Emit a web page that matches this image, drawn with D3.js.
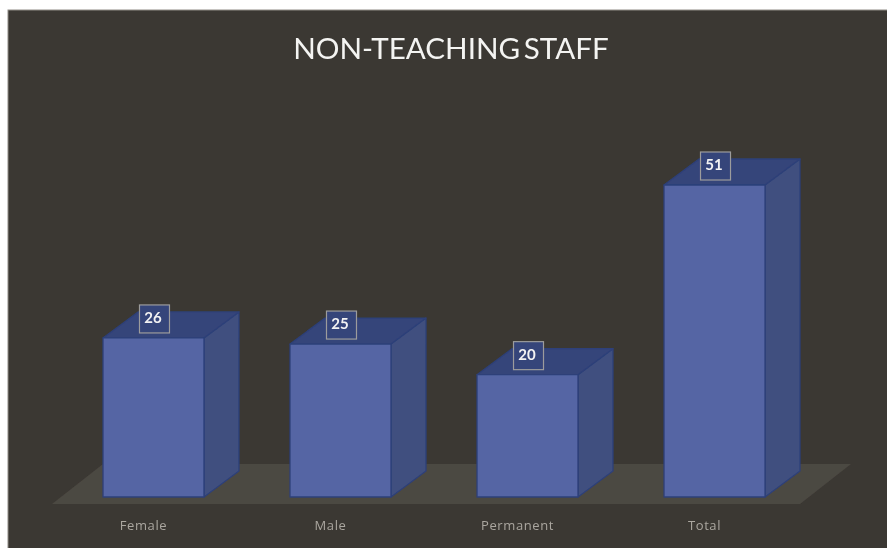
<!DOCTYPE html>
<html>
<head>
<meta charset="utf-8">
<script src="https://d3js.org/d3.v7.min.js"></script>
<style>
html, body { margin: 0; padding: 0; background: #fff; overflow: hidden; }
svg { display: block; }
.axis text { font-family: "Open Sans", sans-serif; font-size: 13px; fill: #aaa69f; letter-spacing: 0.6px; }
.axis .domain, .axis line { display: none; }
</style>
</head>
<body>
<div id="chart"></div>
<script>
const categories = ['Female', 'Male', 'Permanent', 'Total'];
const values = [26, 25, 20, 51];
const titleText = 'NON-TEACHING STAFF';

const width = 887, height = 548;
const baseY = 497, topY = 185;
const depth = {x: 35, y: -26};
const floorDepth = {x: 51, y: -40};

const svg = d3.select('#chart').append('svg')
    .attr('width', width)
    .attr('height', height);

const defs = svg.append('defs');
defs.append('filter').attr('id', 'soft')
    .append('feGaussianBlur').attr('stdDeviation', 0.55);

// dark panel runs off the right and bottom edges, white strip stays at top and left
svg.append('rect')
    .attr('x', 8).attr('y', 10)
    .attr('width', width).attr('height', height)
    .attr('fill', '#3b3833')
    .attr('stroke', '#8f8c86')
    .attr('stroke-width', 1);

const xScale = d3.scaleBand()
    .domain(categories)
    .range([103, 765])
    .paddingInner(0.46);

const yScale = d3.scaleLinear()
    .domain([0, d3.max(values)])
    .range([baseY, topY]);

const data = categories.map((c, i) => ({category: c, value: values[i]}));
const bw = xScale.bandwidth();
const poly = pts => pts.map(p => p.join(',')).join(' ');

const g = svg.append('g').attr('filter', 'url(#soft)');

// floor
const floorLeft = xScale(categories[0]) - 51;
const floorRight = xScale(categories[3]) + bw + 35;
g.append('polygon')
    .attr('points', poly([
        [floorLeft, baseY + 7],
        [floorRight, baseY + 7],
        [floorRight + floorDepth.x, baseY + 7 + floorDepth.y],
        [floorLeft + floorDepth.x, baseY + 7 + floorDepth.y]
    ]))
    .attr('fill', '#4c4842');

const bars = g.selectAll('g.bar')
    .data(data)
    .enter()
    .append('g')
    .attr('class', 'bar')
    .attr('stroke', '#2d4079')
    .attr('stroke-width', 1.3)
    .attr('stroke-linejoin', 'round');

// side face
bars.append('polygon')
    .attr('points', d => {
        const x = xScale(d.category) + bw, y = yScale(d.value);
        return poly([[x, baseY], [x, y], [x + depth.x, y + depth.y], [x + depth.x, baseY + depth.y]]);
    })
    .attr('fill', '#40507f');

// top face
bars.append('polygon')
    .attr('points', d => {
        const x = xScale(d.category), y = yScale(d.value);
        return poly([[x, y], [x + bw, y], [x + bw + depth.x, y + depth.y], [x + depth.x, y + depth.y]]);
    })
    .attr('fill', '#35447a');

// front face
bars.append('rect')
    .attr('x', d => xScale(d.category))
    .attr('y', d => yScale(d.value))
    .attr('width', bw)
    .attr('height', d => baseY - yScale(d.value))
    .attr('fill', '#5565a4');

// value labels
const labels = g.selectAll('g.label')
    .data(data)
    .enter()
    .append('g')
    .attr('class', 'label')
    .attr('transform', d => `translate(${xScale(d.category) + bw / 2 + 1}, ${yScale(d.value) - 19})`);

labels.append('rect')
    .attr('x', -15).attr('y', -14)
    .attr('width', 30).attr('height', 28)
    .attr('fill', '#35447a')
    .attr('stroke', '#9c9c9c')
    .attr('stroke-width', 1.2);

labels.append('text')
    .attr('text-anchor', 'middle')
    .attr('y', 4)
    .attr('x', -1.5)
    .attr('font-family', 'Lato, sans-serif')
    .attr('font-size', 15)
    .attr('font-weight', 700)
    .attr('fill', '#f2f2f2')
    .text(d => d.value);

// category labels sit a little left of the bars in the original
const xAxis = d3.axisBottom(xScale).tickSize(0).tickPadding(0);
g.append('g')
    .attr('class', 'axis')
    .attr('transform', `translate(-10, 521)`)
    .call(xAxis);

g.append('text')
    .attr('x', 451)
    .attr('y', 59)
    .attr('text-anchor', 'middle')
    .attr('font-family', 'Lato, sans-serif')
    .attr('font-size', 29.6)
    .attr('word-spacing', -4)
    .attr('fill', '#f4f4f2')
    .text(titleText);
</script>
</body>
</html>
